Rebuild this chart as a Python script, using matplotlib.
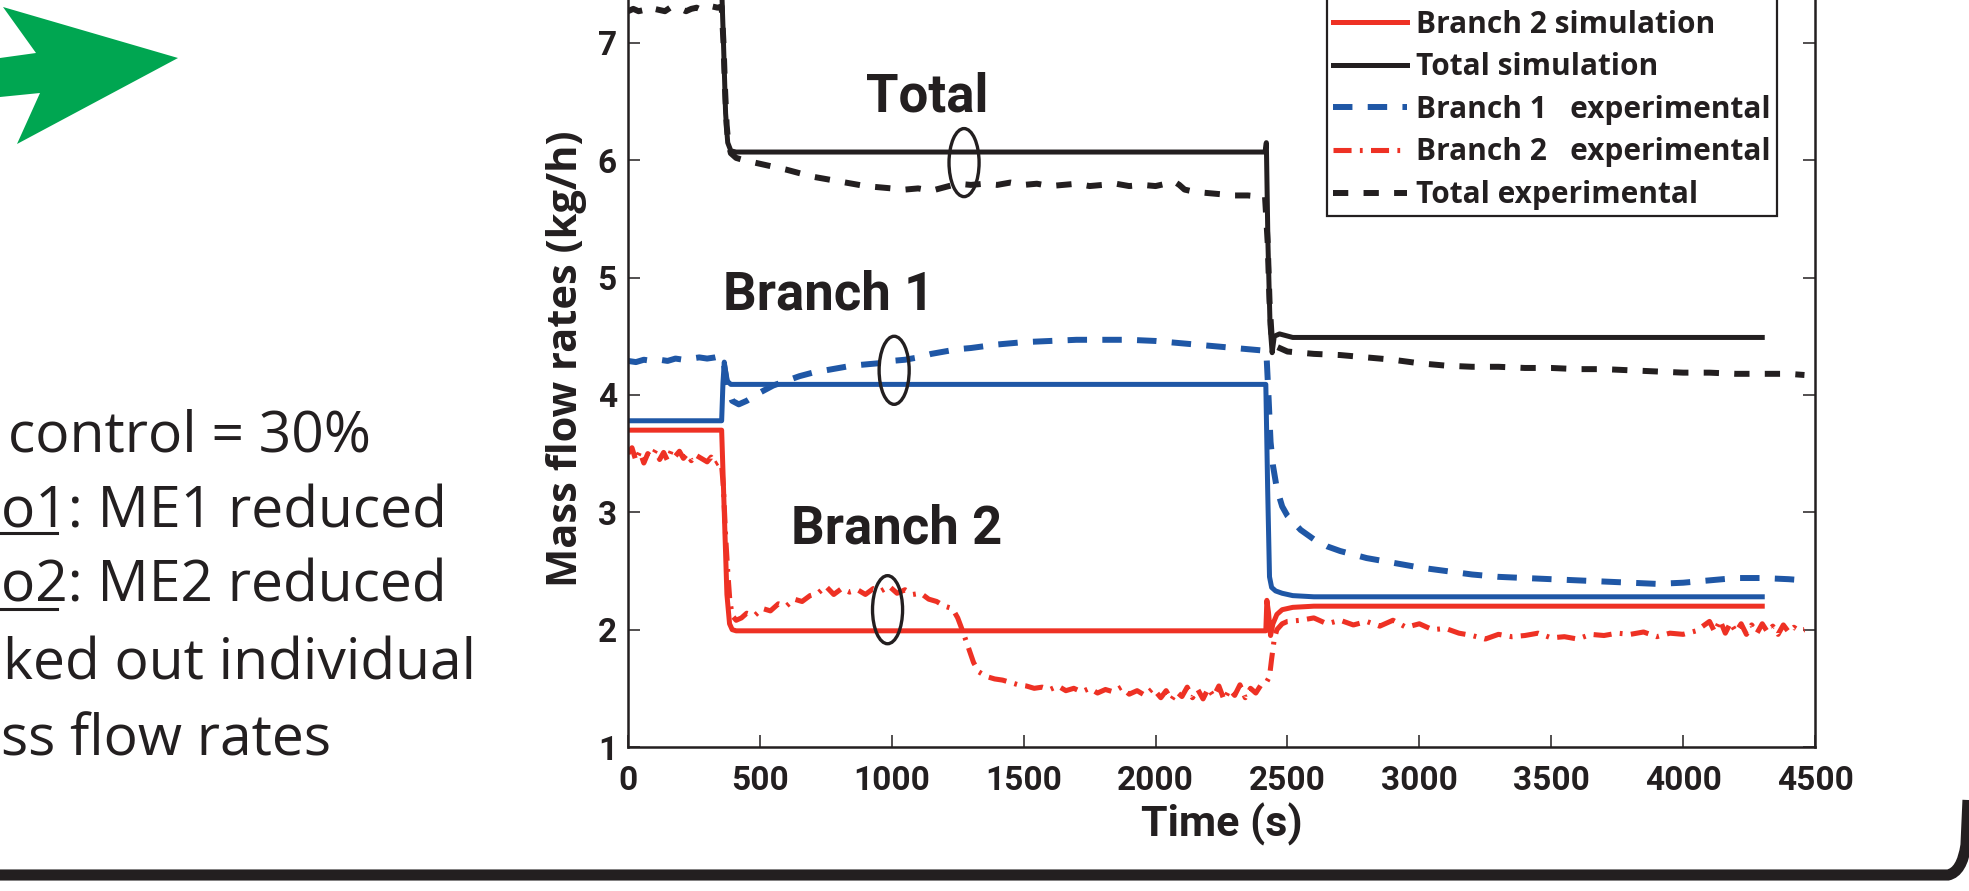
import matplotlib
matplotlib.use("Agg")
import matplotlib.pyplot as plt
from matplotlib.patches import Ellipse, Polygon
from matplotlib.path import Path
from matplotlib.patches import PathPatch
from matplotlib.font_manager import FontProperties

plt.rcParams['lines.scale_dashes'] = False

# ---------------- data ----------------
# simulation
t_b1_sim = [0, 355, 360, 365, 375, 390, 2418, 2425, 2432, 2440, 2455, 2480, 2520, 2600, 4300]
v_b1_sim = [3.78, 3.78, 4.10, 4.28, 4.12, 4.09, 4.09, 3.20, 2.45, 2.36, 2.33, 2.31, 2.29, 2.28, 2.28]

t_b2_sim = [0, 355, 365, 375, 385, 395, 410, 2418, 2422, 2428, 2436, 2445, 2460, 2480, 2520, 2600, 4300]
v_b2_sim = [3.70, 3.70, 3.00, 2.30, 2.05, 2.00, 1.99, 1.99, 2.25, 2.15, 1.95, 2.05, 2.13, 2.17, 2.19, 2.20, 2.20]

t_tot_sim = [0, 355, 362, 370, 378, 390, 410, 2415, 2420, 2426, 2434, 2442, 2450, 2470, 2520, 4300]
v_tot_sim = [7.48, 7.48, 7.00, 6.40, 6.15, 6.08, 6.07, 6.07, 6.15, 5.30, 4.60, 4.36, 4.50, 4.52, 4.49, 4.49]

# experimental
t_tot_exp = [0, 20, 40, 60, 80, 100, 120, 140, 160, 180, 200, 220, 240, 260, 280, 300, 320, 340, 355,
             362, 368, 374, 380, 390, 410, 440, 480, 520, 560, 600, 650, 700, 750, 800, 850, 900, 950,
             1000, 1050, 1100, 1150, 1200, 1250, 1300, 1350, 1400, 1450, 1500, 1550, 1600, 1650, 1700,
             1750, 1800, 1850, 1900, 1950, 2000, 2040, 2070, 2090, 2110, 2150, 2200, 2250, 2300, 2350,
             2400, 2415, 2425, 2432, 2440, 2450, 2470, 2500, 2550, 2600, 2700, 2800, 2900, 3000, 3100,
             3200, 3300, 3400, 3500, 3600, 3700, 3800, 3900, 4000, 4100, 4200, 4300, 4400, 4460]
v_tot_exp = [7.27, 7.29, 7.27, 7.28, 7.26, 7.29, 7.28, 7.27, 7.30, 7.28, 7.29, 7.27, 7.29, 7.30, 7.28, 7.29, 7.31, 7.30, 7.31,
             7.00, 6.60, 6.30, 6.15, 6.06, 6.02, 6.00, 5.98, 5.96, 5.94, 5.92, 5.89, 5.86, 5.84, 5.82, 5.80, 5.78, 5.77,
             5.76, 5.75, 5.76, 5.74, 5.77, 5.80, 5.79, 5.80, 5.79, 5.81, 5.79, 5.80, 5.78, 5.79, 5.80,
             5.78, 5.79, 5.80, 5.78, 5.79, 5.78, 5.80, 5.82, 5.79, 5.75, 5.73, 5.72, 5.71, 5.70, 5.70,
             5.69, 5.69, 5.30, 4.80, 4.50, 4.42, 4.40, 4.37, 4.36, 4.35, 4.34, 4.32, 4.30, 4.27, 4.25,
             4.24, 4.24, 4.23, 4.23, 4.22, 4.22, 4.21, 4.20, 4.19, 4.19, 4.18, 4.18, 4.18, 4.17]

t_b1_exp = [0, 30, 60, 90, 120, 150, 180, 210, 240, 270, 300, 330, 350, 362, 370, 380, 395, 420, 450, 500,
            550, 600, 650, 700, 750, 800, 850, 900, 950, 1000, 1050, 1100, 1150, 1200, 1250, 1300, 1400,
            1500, 1600, 1700, 1800, 1900, 2000, 2100, 2200, 2300, 2400, 2420, 2428, 2436, 2445, 2460, 2480,
            2500, 2550, 2600, 2650, 2700, 2800, 2900, 3000, 3100, 3200, 3300, 3400, 3500, 3600, 3700, 3800,
            3900, 4000, 4100, 4200, 4300, 4400, 4460]
v_b1_exp = [4.29, 4.28, 4.30, 4.29, 4.30, 4.29, 4.31, 4.30, 4.31, 4.32, 4.31, 4.32, 4.33, 4.28, 4.18, 4.05, 3.95, 3.92, 3.95, 4.02,
            4.08, 4.12, 4.16, 4.19, 4.21, 4.23, 4.25, 4.26, 4.27, 4.29, 4.30, 4.32, 4.35, 4.37, 4.39, 4.40, 4.43,
            4.45, 4.46, 4.47, 4.47, 4.47, 4.46, 4.44, 4.42, 4.40, 4.38, 4.37, 4.00, 3.60, 3.40, 3.20, 3.05,
            2.97, 2.85, 2.77, 2.71, 2.67, 2.61, 2.57, 2.53, 2.50, 2.47, 2.45, 2.44, 2.43, 2.42, 2.41, 2.40,
            2.39, 2.40, 2.42, 2.44, 2.44, 2.43, 2.42]

t_b2_exp = [0, 15, 30, 45, 60, 75, 90, 105, 120, 135, 150, 165, 180, 195, 210, 225, 240, 255, 270, 285, 300,
            315, 330, 345, 355, 362, 370, 378, 386, 395, 410, 430, 450, 480, 510, 540, 570, 600, 630, 660,
            690, 720, 750, 780, 810, 840, 870, 900, 930, 960, 990, 1020, 1050, 1080, 1110, 1140, 1170, 1200,
            1230, 1250, 1270, 1290, 1310, 1330, 1360, 1390, 1420, 1450, 1480, 1510, 1540, 1570, 1600, 1630,
            1660, 1690, 1720, 1750, 1780, 1810, 1840, 1870, 1900, 1930, 1960, 1990, 2020, 2040, 2060, 2080,
            2100, 2120, 2140, 2160, 2180, 2200, 2220, 2240, 2260, 2280, 2300, 2320, 2340, 2360, 2380, 2400,
            2420, 2432, 2440, 2450, 2460, 2480, 2500, 2550, 2600, 2650, 2700, 2750, 2800, 2850, 2900, 2950,
            3000, 3050, 3100, 3150, 3200, 3250, 3300, 3350, 3400, 3450, 3500, 3550, 3600, 3650, 3700, 3750,
            3800, 3850, 3900, 3950, 4000, 4050, 4100, 4120, 4140, 4160, 4180, 4200, 4220, 4240, 4260, 4280,
            4300, 4320, 4340, 4360, 4380, 4400, 4420, 4440, 4460]
v_b2_exp = [3.50, 3.55, 3.44, 3.52, 3.42, 3.50, 3.47, 3.53, 3.45, 3.51, 3.44, 3.53, 3.48, 3.52, 3.46, 3.50, 3.44, 3.49, 3.47, 3.45, 3.43,
            3.47, 3.41, 3.43, 3.40, 3.20, 2.80, 2.50, 2.25, 2.12, 2.08, 2.10, 2.14, 2.12, 2.18, 2.16, 2.22, 2.20, 2.26, 2.24,
            2.29, 2.31, 2.37, 2.30, 2.35, 2.32, 2.34, 2.30, 2.35, 2.33, 2.37, 2.31, 2.34, 2.30, 2.31, 2.26, 2.24, 2.20,
            2.18, 2.10, 1.98, 1.85, 1.72, 1.64, 1.60, 1.58, 1.57, 1.55, 1.53, 1.52, 1.50, 1.51, 1.49, 1.52,
            1.48, 1.50, 1.47, 1.50, 1.46, 1.49, 1.47, 1.51, 1.45, 1.48, 1.44, 1.50, 1.42, 1.48, 1.40, 1.47,
            1.43, 1.51, 1.42, 1.49, 1.41, 1.50, 1.43, 1.52, 1.40, 1.49, 1.44, 1.53, 1.42, 1.50, 1.46, 1.53,
            1.55, 1.60, 1.75, 1.92, 2.00, 2.05, 2.07, 2.08, 2.10, 2.05, 2.08, 2.04, 2.07, 2.03, 2.08, 2.02,
            2.05, 2.00, 2.01, 1.97, 1.95, 1.92, 1.96, 1.94, 1.95, 1.97, 1.93, 1.94, 1.92, 1.96, 1.95, 1.97,
            1.96, 1.98, 1.94, 1.97, 1.96, 1.99, 2.07, 1.98, 2.08, 1.97, 2.06, 1.98, 2.05, 1.96, 2.04, 1.97,
            2.05, 1.98, 2.03, 1.96, 2.04, 1.98, 2.02, 1.99, 2.00]

legend_labels = ["Branch 1 simulation", "Branch 2 simulation", "Total simulation",
                 "Branch 1   experimental", "Branch 2   experimental", "Total experimental"]
x_ticks = [0, 500, 1000, 1500, 2000, 2500, 3000, 3500, 4000, 4500]
y_ticks = [1, 2, 3, 4, 5, 6, 7]
side_lines = ["control = 30%", "o1: ME1 reduced", "o2: ME2 reduced", "ked out individual", "ss flow rates"]

# ---------------- style ----------------
BLUE = "#1F57A6"
RED = "#EE3124"
BLACK = "#231F20"
GREEN = "#00A651"

W, H = 1969, 891
fig = plt.figure(figsize=(W / 100, H / 100), dpi=100)

def fx(px):
    return px / W

def fy(py):
    return 1 - py / H

ax_left, ax_right, ax_bottom_px = 628, 1815, 747
px_per_unit = 117.35
ax = fig.add_axes([fx(ax_left), fy(ax_bottom_px), (ax_right - ax_left) / W, 7 * px_per_unit / H])
ax.set_xlim(0, 4500)
ax.set_ylim(1, 8)

lw = 3.6
lwe = 4.3
ax.plot(t_b1_sim, v_b1_sim, color=BLUE, lw=lw, label=legend_labels[0])
ax.plot(t_b2_sim, v_b2_sim, color=RED, lw=lw, label=legend_labels[1])
ax.plot(t_tot_sim, v_tot_sim, color=BLACK, lw=lw, label=legend_labels[2])
ax.plot(t_b1_exp, v_b1_exp, color=BLUE, lw=lwe, dashes=(14, 11), label=legend_labels[3])
ax.plot(t_b2_exp, v_b2_exp, color=RED, lw=lwe * 0.85, dashes=(13, 6, 2, 6), label=legend_labels[4])
ax.plot(t_tot_exp, v_tot_exp, color=BLACK, lw=lwe, dashes=(11, 11), label=legend_labels[5])

for s in ax.spines.values():
    s.set_linewidth(1.8)
    s.set_color(BLACK)

tick_font = dict(family=["Roboto", "DejaVu Sans"], weight="bold", size=24)
ax.set_xticks(x_ticks)
ax.set_yticks(y_ticks)
ax.set_xticklabels([str(v) for v in x_ticks], fontdict=tick_font, color=BLACK)
ax.set_yticklabels([str(v) for v in y_ticks], fontdict=tick_font, color=BLACK)
ax.tick_params(axis="both", direction="in", length=8.6, width=1.1, color=BLACK,
               top=True, right=True)
ax.tick_params(axis="x", pad=13)
ax.tick_params(axis="y", pad=8)

ax.set_xlabel("Time (s)", family=["Roboto", "DejaVu Sans"], weight="bold", size=31, color=BLACK,
              labelpad=4)
ax.set_ylabel("Mass flow rates (kg/h)", family=["Open Sans", "DejaVu Sans"], weight="bold",
              size=30, color=BLACK)
ax.yaxis.label.set_va("center")
ax.yaxis.set_label_coords((566 - ax_left) / (ax_right - ax_left), (ax_bottom_px - 359) / (7 * px_per_unit))

leg = ax.legend(loc="lower right", bbox_to_anchor=(fx(1777), fy(216)), bbox_transform=fig.transFigure,
                prop=FontProperties(family=["Open Sans", "DejaVu Sans"], weight="bold", size=21.5),
                handlelength=2.5, handletextpad=0.3, labelspacing=0.42, borderpad=0.2,
                borderaxespad=0, fancybox=False, framealpha=1)
leg.get_frame().set_edgecolor(BLACK)
leg.get_frame().set_linewidth(1.6)
for txt in leg.get_texts():
    txt.set_color(BLACK)

# ellipses + annotations
for (tc, vc) in [(1274, 5.98), (1009, 4.21), (984, 2.17)]:
    ax.add_patch(Ellipse((tc, vc), width=114, height=0.58, fill=False, edgecolor=BLACK, lw=2.4, zorder=5))

ann_font = dict(family=["Roboto", "DejaVu Sans"], weight="bold", size=38, color=BLACK)
ax.text(1133, 6.414, "Total", ha="center", va="baseline", **ann_font)
ax.text(760, 4.724, "Branch 1", ha="center", va="baseline", **ann_font)
ax.text(1018, 2.73, "Branch 2", ha="center", va="baseline", **ann_font)

# slide elements: green arrow
arrow_px = [(0, 58), (36, 53), (3, 7), (178, 58), (17, 144), (40, 93), (0, 97)]
fig.patches.append(Polygon([(fx(x), fy(y)) for x, y in arrow_px], closed=True, facecolor=GREEN,
                           edgecolor="none", transform=fig.transFigure, figure=fig))

# side text
body_font = dict(family=["Open Sans", "DejaVu Sans"], size=41, color=BLACK)
baselines = [451, 527, 602, 680, 755]
starts = [8, 1, 1, 3, 1]
for txt, b, s in zip(side_lines, baselines, starts):
    fig.text(fx(s), fy(b), txt, ha="left", va="baseline", **body_font)
for b in [533, 609]:
    fig.add_artist(plt.Line2D([fx(0), fx(57)], [fy(b), fy(b)], color=BLACK, lw=2.2,
                              transform=fig.transFigure))

# slide frame bottom border with rounded corner
verts = [(fx(0), fy(875)), (fx(1948), fy(875)), (fx(1962), fy(872)), (fx(1966), fy(845)), (fx(1968), fy(800))]
codes = [Path.MOVETO, Path.LINETO, Path.CURVE3, Path.CURVE3, Path.LINETO]
fig.patches.append(PathPatch(Path(verts, codes), facecolor="none", edgecolor=BLACK, lw=8,
                             transform=fig.transFigure, figure=fig, capstyle="butt"))

fig.savefig("out.png", dpi=100)
